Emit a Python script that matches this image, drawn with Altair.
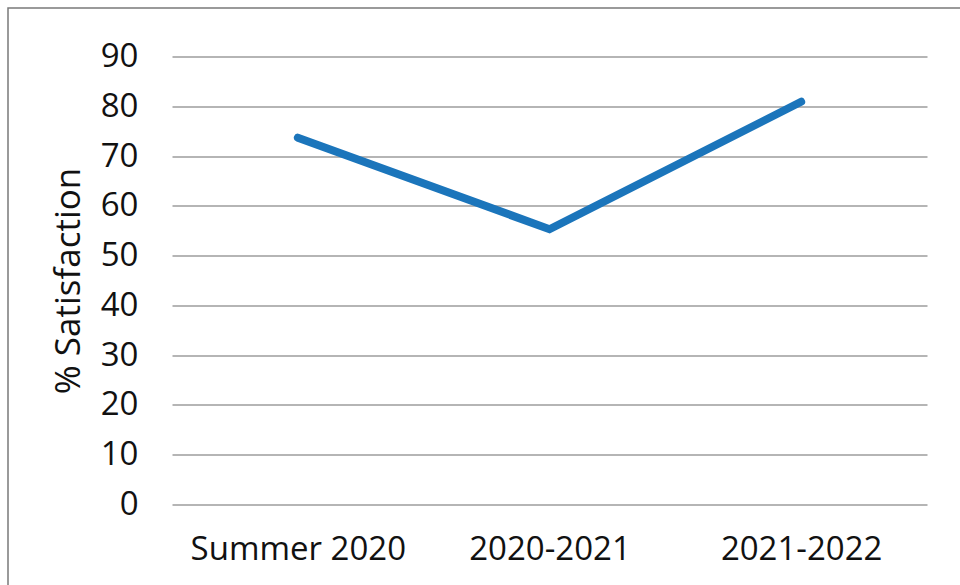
import altair as alt
import pandas as pd

# Satisfaction by period
periods = ["Summer 2020", "2020-2021", "2021-2022"]
satisfaction = [73.7, 55.3, 80.9]

df = pd.DataFrame({"period": periods, "satisfaction": satisfaction})

FONT = "Open Sans"
SIZE = 33

line = alt.Chart(df).mark_line(
    color="#1b75bb", strokeWidth=8, strokeCap="round", strokeJoin="miter"
).encode(
    x=alt.X(
        "period:N",
        sort=periods,
        scale=alt.Scale(type="point", padding=0.5),
        axis=alt.Axis(
            title=None, grid=False, domain=False, ticks=False,
            labelPadding=29, labelFontSize=SIZE, labelColor="#111111",
            labelFont=FONT, labelAngle=0, labelLimit=0,
        ),
    ),
    y=alt.Y(
        "satisfaction:Q",
        scale=alt.Scale(domain=[0, 90], nice=False),
        axis=alt.Axis(
            title="% Satisfaction", titleFontSize=35, titleFont=FONT,
            titleFontWeight="normal", titleColor="#111111", titlePadding=14,
            values=list(range(0, 91, 10)), domain=False, ticks=False,
            labelPadding=34, labelFontSize=SIZE, labelColor="#111111",
            labelFont=FONT, grid=True, gridColor="#b5b5b5", gridWidth=2.2,
        ),
    ),
)

# outer frame of the figure
frame = alt.Chart(pd.DataFrame({"k": [0]})).mark_rect(
    fill=None, stroke="#7a7a7a", strokeWidth=1.5
).encode(
    x=alt.value(-164), x2=alt.value(820),
    y=alt.value(-48.5), y2=alt.value(620),
)

chart = alt.layer(frame, line).properties(
    width=755, height=448,
    autosize=alt.AutoSizeParams(type="none"),
    padding={"left": 172, "top": 56.5, "right": 33, "bottom": 80.5},
    background="white",
).configure_view(stroke=None)

chart.save("out.html", embed_options={"renderer": "svg", "actions": False})
